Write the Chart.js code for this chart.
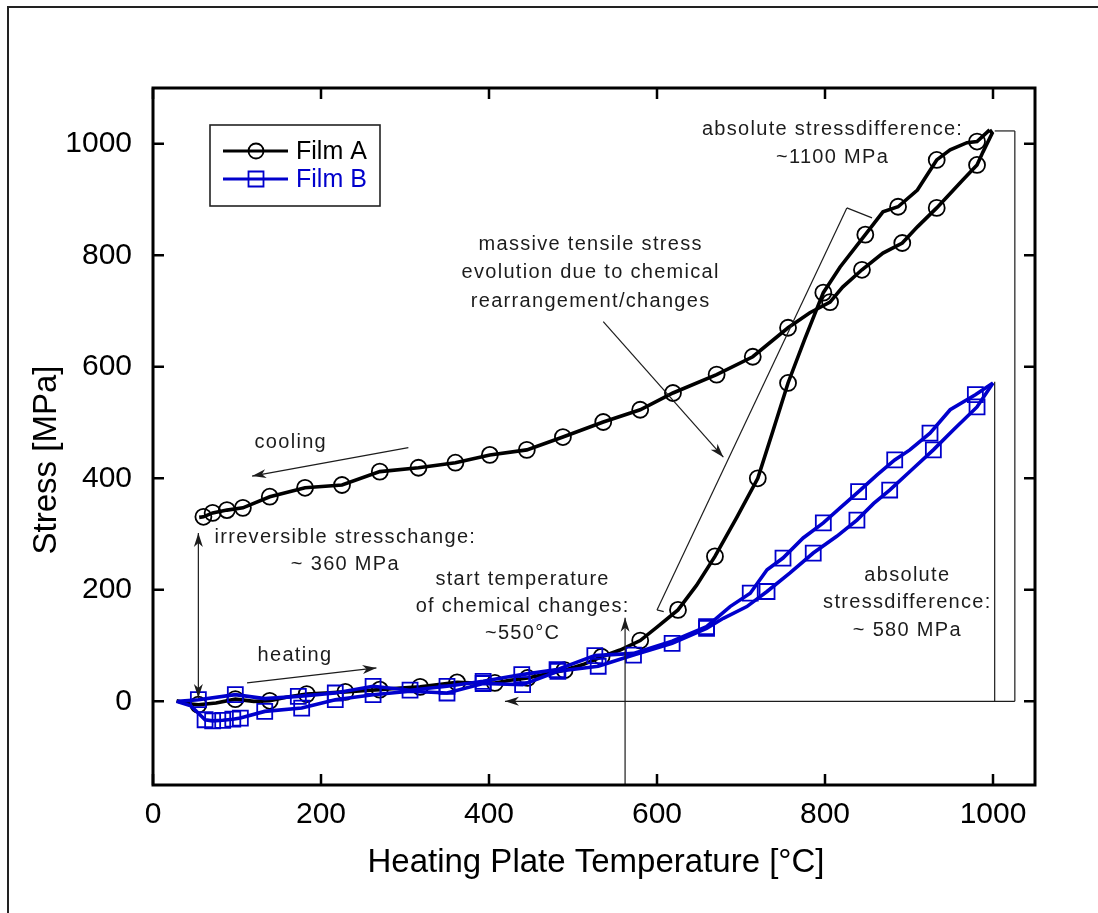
<!DOCTYPE html>
<html>
<head>
<meta charset="utf-8">
<script src="https://cdn.jsdelivr.net/npm/chart.js@4/dist/chart.umd.min.js"></script>
<style>
  html, body { margin: 0; padding: 0; background: #fff; overflow: hidden; }
  canvas { display: block; }
</style>
</head>
<body>
<canvas id="stressChart" width="1098" height="913"></canvas>
<script>
// ---- Film A (circles): heating and cooling runs, temperature [°C] / stress [MPa]
const filmAHeatT = [28, 40, 54, 75, 98, 120, 139, 160, 183, 205, 229, 250, 270, 295, 318, 340, 362, 385, 407, 425, 446, 468, 490, 512, 534, 556, 580, 600, 625, 647, 669, 695, 720, 738, 756, 776, 798, 818, 848, 869, 887, 910, 933, 949, 969, 981, 996];
const filmAHeatS = [1, -4, -6, -3, 4, 0, 1, 8, 13, 15, 17, 19, 21, 24, 26, 30, 34, 33, 33, 38, 42, 49, 56, 66, 80, 92, 109, 133, 164, 208, 260, 330, 400, 485, 571, 650, 733, 779, 837, 878, 887, 917, 971, 989, 1002, 1004, 1025];
const filmAHeatMarks = [54, 98, 139, 183, 229, 270, 318, 362, 407, 446, 490, 534, 580, 625, 669, 720, 756, 798, 848, 887, 933, 981];

const filmACoolT = [996, 999, 988, 981, 964, 933, 910, 892, 869, 844, 821, 806, 782, 756, 714, 671, 619, 580, 536, 488, 445, 401, 360, 316, 270, 225, 181, 139, 107, 88, 71, 60, 55];
const filmACoolS = [1025, 1019, 985, 962, 935, 885, 851, 822, 804, 774, 743, 716, 697, 670, 618, 586, 553, 523, 501, 474, 451, 442, 428, 419, 412, 388, 383, 367, 347, 343, 338, 331, 330];
const filmACoolMarks = [981, 933, 892, 844, 806, 756, 714, 671, 619, 580, 536, 488, 445, 401, 360, 316, 270, 225, 181, 139, 107, 88, 71, 60];

// ---- Film B (squares)
const filmBHeatT = [28, 45, 62, 71, 83, 95, 104, 133, 177, 217, 262, 306, 350, 393, 440, 482, 530, 572, 618, 659, 679, 707, 731, 758, 786, 814, 838, 858, 877, 903, 929, 953, 981, 1000];
const filmBHeatS = [0, -8, -33, -35, -34, -32, -30, -18, -12, 3, 12, 18, 15, 32, 30, 54, 63, 83, 104, 131, 149, 170, 197, 230, 266, 296, 325, 355, 379, 415, 451, 487, 528, 571];
const filmBHeatMarks = [62, 71, 83, 95, 104, 133, 177, 217, 262, 350, 393, 440, 482, 530, 572, 618, 659, 731, 786, 838, 877, 929, 981];

const filmBCoolT = [1000, 979, 949, 925, 901, 883, 862, 840, 818, 798, 774, 750, 731, 711, 687, 659, 618, 572, 526, 481, 439, 393, 350, 306, 262, 217, 173, 133, 98, 54, 30];
const filmBCoolS = [571, 550, 523, 481, 451, 433, 406, 376, 347, 320, 293, 257, 236, 194, 170, 134, 108, 86, 82, 57, 48, 36, 27, 20, 27, 15, 9, 5, 12, 3, 0];
const filmBCoolMarks = [979, 925, 883, 840, 798, 750, 711, 659, 526, 481, 439, 393, 350, 306, 262, 217, 173, 98, 54];

// ---- axes
const xTicks = [0, 200, 400, 600, 800, 1000];
const yTicks = [0, 200, 400, 600, 800, 1000];
const xRange = [0, 1050];
const yRange = [-150, 1100];
const seriesNames = ['Film A', 'Film B'];
const xTitle = 'Heating Plate Temperature [°C]';
const yTitle = 'Stress [MPa]';

const BLACK = '#000000';
const BLUE = '#0000cc';
const INK = '#1c1c1c';
const FONT = '"Liberation Sans", Arial, Helvetica, sans-serif';

// ---- annotations, in data units (temperature, stress)
const noteTexts = [
  ['absolute stressdifference:', 809, 1025],
  ['~1100 MPa', 809, 975],
  ['massive tensile stress', 521, 819],
  ['evolution due to chemical', 521, 769],
  ['rearrangement/changes', 521, 718],
  ['cooling', 164, 464],
  ['irreversible stresschange:', 229, 293],
  ['~ 360 MPa', 229, 245],
  ['start temperature', 440, 218],
  ['of chemical changes:', 440, 170],
  ['~550°C', 440, 121],
  ['heating', 169, 82],
  ['absolute', 898, 225],
  ['stressdifference:', 898, 177],
  ['~ 580 MPa', 898, 128]
];
// [T1, S1, T2, S2, arrow heads]
const noteLines = [
  [304, 455, 118, 404, 'end'],       // cooling
  [112, 33, 266, 60, 'end'],         // heating
  [54, 6, 54, 302, 'both'],          // irreversible change
  [562, -150, 562, 150, 'end'],      // onset temperature
  [536, 681, 679, 438, 'end'],       // massive tensile stress
  [826, 885, 856, 867, 'none'],      // bracket along the steep rise
  [826, 885, 600, 164, 'none'],
  [600, 164, 608, 161, 'none'],
  [1002, 1023, 1026, 1023, 'none'],  // film A span
  [1026, 1023, 1026, 0, 'none'],
  [1026, 0, 419, 0, 'end'],
  [1002, 573, 1002, 0, 'none']       // film B span
];

function pts(ts, ss) { return ts.map((t, i) => ({ x: t, y: ss[i] })); }
function marks(ts, ss, at) { return pts(ts, ss).filter(p => at.includes(p.x)); }

const lineSet = (label, data, color, order) => ({
  label, data, showLine: true, borderColor: color, borderWidth: 3.6,
  pointRadius: 0, pointHoverRadius: 0, fill: false, tension: 0, order
});
const markSet = (label, data, color, style, r, order) => ({
  label, data, showLine: false, borderColor: color, backgroundColor: 'rgba(0,0,0,0)',
  pointStyle: style, pointRadius: r, pointBorderWidth: 1.8, pointHoverRadius: r, order
});

const datasets = [
  lineSet(seriesNames[0], pts(filmAHeatT, filmAHeatS), BLACK, 3),
  lineSet(seriesNames[0], pts(filmACoolT, filmACoolS), BLACK, 3),
  markSet(seriesNames[0], marks(filmAHeatT, filmAHeatS, filmAHeatMarks), BLACK, 'circle', 8, 2),
  markSet(seriesNames[0], marks(filmACoolT, filmACoolS, filmACoolMarks), BLACK, 'circle', 8, 2),
  lineSet(seriesNames[1], pts(filmBHeatT, filmBHeatS), BLUE, 1),
  lineSet(seriesNames[1], pts(filmBCoolT, filmBCoolS), BLUE, 1),
  markSet(seriesNames[1], marks(filmBHeatT, filmBHeatS, filmBHeatMarks), BLUE, 'rect', 10.6, 0),
  markSet(seriesNames[1], marks(filmBCoolT, filmBCoolS, filmBCoolMarks), BLUE, 'rect', 10.6, 0)
];

function arrowHead(ctx, x1, y1, x2, y2) {
  const a = Math.atan2(y2 - y1, x2 - x1);
  ctx.save();
  ctx.translate(x2, y2);
  ctx.rotate(a);
  ctx.beginPath();
  ctx.moveTo(0, 0);
  ctx.lineTo(-14, -4.5);
  ctx.lineTo(-10, 0);
  ctx.lineTo(-14, 4.5);
  ctx.closePath();
  ctx.fill();
  ctx.restore();
}

const decorations = {
  id: 'decorations',
  beforeDraw(chart) {
    const ctx = chart.ctx;
    ctx.save();
    ctx.fillStyle = '#fff';
    ctx.fillRect(0, 0, chart.width, chart.height);
    // page frame
    ctx.strokeStyle = '#222';
    ctx.lineWidth = 2;
    ctx.beginPath();
    ctx.moveTo(8, chart.height + 2);
    ctx.lineTo(8, 7);
    ctx.lineTo(chart.width + 2, 7);
    ctx.stroke();
    ctx.restore();
  },
  afterDatasetsDraw(chart) {
    const ctx = chart.ctx;
    const xs = chart.scales.x, ys = chart.scales.y;
    const a = chart.chartArea;
    ctx.save();

    // annotation lines and arrows
    ctx.strokeStyle = INK;
    ctx.fillStyle = INK;
    ctx.lineWidth = 1.2;
    noteLines.forEach(([t1, s1, t2, s2, heads]) => {
      const x1 = xs.getPixelForValue(t1), y1 = ys.getPixelForValue(s1);
      const x2 = xs.getPixelForValue(t2), y2 = ys.getPixelForValue(s2);
      ctx.beginPath();
      ctx.moveTo(x1, y1);
      ctx.lineTo(x2, y2);
      ctx.stroke();
      if (heads === 'end' || heads === 'both') arrowHead(ctx, x1, y1, x2, y2);
      if (heads === 'both') arrowHead(ctx, x2, y2, x1, y1);
    });

    // annotation texts
    ctx.font = '20px ' + FONT;
    if ('letterSpacing' in ctx) ctx.letterSpacing = '1.3px';
    ctx.textAlign = 'center';
    ctx.textBaseline = 'middle';
    ctx.fillStyle = INK;
    noteTexts.forEach(([s, t, v]) => {
      ctx.fillText(s, xs.getPixelForValue(t), ys.getPixelForValue(v));
    });
    if ('letterSpacing' in ctx) ctx.letterSpacing = '0px';

    // plot frame and inward ticks
    ctx.strokeStyle = '#000';
    ctx.lineWidth = 3;
    ctx.strokeRect(a.left, a.top, a.right - a.left, a.bottom - a.top);
    ctx.lineWidth = 2.5;
    ctx.beginPath();
    xTicks.forEach(v => {
      const x = xs.getPixelForValue(v);
      ctx.moveTo(x, a.bottom); ctx.lineTo(x, a.bottom - 11);
      ctx.moveTo(x, a.top); ctx.lineTo(x, a.top + 11);
    });
    yTicks.forEach(v => {
      const y = ys.getPixelForValue(v);
      ctx.moveTo(a.left, y); ctx.lineTo(a.left + 11, y);
      ctx.moveTo(a.right, y); ctx.lineTo(a.right - 11, y);
    });
    ctx.stroke();

    // legend
    const lx = a.left + 57, ly = a.top + 37;
    ctx.lineWidth = 1.6;
    ctx.strokeStyle = '#222';
    ctx.strokeRect(lx, ly, 170, 81);
    const rows = [[seriesNames[0], BLACK, 'circle'], [seriesNames[1], BLUE, 'rect']];
    ctx.font = '25px ' + FONT;
    ctx.textAlign = 'left';
    ctx.textBaseline = 'middle';
    rows.forEach(([name, color, style], i) => {
      const y = ly + 26 + i * 28;
      ctx.strokeStyle = color;
      ctx.lineWidth = 3.2;
      ctx.beginPath();
      ctx.moveTo(lx + 13, y); ctx.lineTo(lx + 78, y);
      ctx.stroke();
      ctx.lineWidth = 1.8;
      ctx.beginPath();
      if (style === 'circle') {
        ctx.arc(lx + 46, y, 7.5, 0, Math.PI * 2);
      } else {
        ctx.rect(lx + 38.5, y - 7.5, 15, 15);
      }
      ctx.stroke();
      ctx.fillStyle = color;
      ctx.fillText(name, lx + 86, y + 1);
    });

    // axis titles
    ctx.fillStyle = '#000';
    ctx.font = '33px ' + FONT;
    ctx.textAlign = 'center';
    ctx.textBaseline = 'middle';
    ctx.fillText(xTitle, (a.left + a.right) / 2 + 2, 863);
    ctx.save();
    ctx.translate(47, 460);
    ctx.rotate(-Math.PI / 2);
    ctx.fillText(yTitle, 0, 0);
    ctx.restore();

    ctx.restore();
  }
};

new Chart(document.getElementById('stressChart'), {
  type: 'scatter',
  data: { datasets },
  options: {
    responsive: false,
    animation: false,
    devicePixelRatio: 1,
    layout: { padding: { left: 0, right: 63, top: 88, bottom: 0 } },
    plugins: { legend: { display: false }, tooltip: { enabled: false } },
    scales: {
      x: {
        type: 'linear', min: xRange[0], max: xRange[1],
        afterBuildTicks: s => { s.ticks = xTicks.map(v => ({ value: v })); },
        afterFit: s => { s.height = 128; },
        grid: { display: false, drawTicks: false },
        border: { display: false },
        ticks: { color: '#000', font: { size: 30, family: FONT }, padding: 12, maxRotation: 0,
                 callback: v => String(v) }
      },
      y: {
        type: 'linear', min: yRange[0], max: yRange[1],
        afterBuildTicks: s => { s.ticks = yTicks.map(v => ({ value: v })); },
        afterFit: s => { s.width = 153; },
        grid: { display: false, drawTicks: false },
        border: { display: false },
        ticks: { color: '#000', font: { size: 30, family: FONT }, padding: 21,
                 callback: v => String(v) }
      }
    }
  },
  plugins: [decorations]
});
</script>
</body>
</html>
